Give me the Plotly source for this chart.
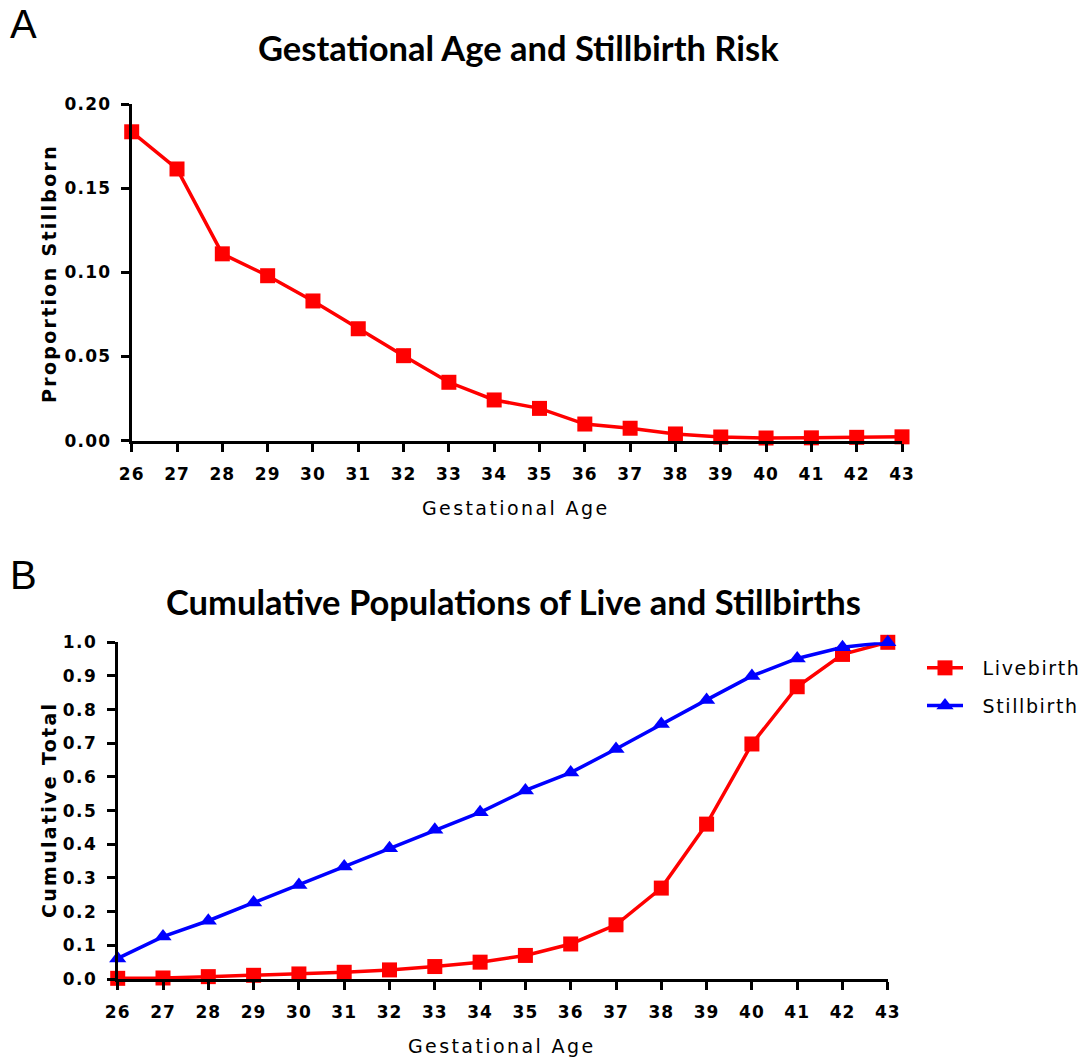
import plotly.graph_objects as go

weeks = list(range(26, 44))
prop_stillborn = [0.1835, 0.1614, 0.111, 0.098, 0.083, 0.0665, 0.0505, 0.0347, 0.0242,
                  0.0192, 0.0099, 0.0074, 0.0040, 0.0022, 0.0016, 0.0017, 0.0020, 0.0023]
livebirth_cum = [0.002, 0.003, 0.007, 0.011, 0.015, 0.020, 0.027, 0.037, 0.050,
                 0.070, 0.104, 0.161, 0.270, 0.460, 0.698, 0.868, 0.964, 1.000]
stillbirth_cum = [0.061, 0.126, 0.173, 0.227, 0.279, 0.334, 0.388, 0.443, 0.495,
                  0.560, 0.613, 0.683, 0.757, 0.829, 0.900, 0.952, 0.985, 1.000]
y1_ticks = [0.00, 0.05, 0.10, 0.15, 0.20]
y2_ticks = [0.0, 0.1, 0.2, 0.3, 0.4, 0.5, 0.6, 0.7, 0.8, 0.9, 1.0]

RED = "#ff0000"
BLUE = "#0000ff"
TICKFONT = dict(family="DejaVu Sans", size=17, color="black", weight="bold")


def sp(s, ls=2):
    return f'<span style="letter-spacing:{ls}px">{s}</span>'


fig = go.Figure()
fig.add_trace(go.Scatter(x=weeks, y=prop_stillborn, mode="lines+markers",
                         line=dict(color=RED, width=3.5),
                         marker=dict(symbol="square", size=15, color=RED),
                         cliponaxis=False, showlegend=False,
                         xaxis="x", yaxis="y"))
fig.add_trace(go.Scatter(x=weeks, y=livebirth_cum, mode="lines+markers",
                         name=sp("\u2002\u200aLivebirth", 1.6),
                         line=dict(color=RED, width=3.5),
                         marker=dict(symbol="square", size=15, color=RED),
                         cliponaxis=False, legendgroup="a",
                         xaxis="x2", yaxis="y2"))
fig.add_trace(go.Scatter(x=weeks, y=stillbirth_cum, mode="lines+markers",
                         name=sp("\u2002\u200aStillbirth", 1.6),
                         line=dict(color=BLUE, width=3.5),
                         marker=dict(symbol="triangle-up", size=15, color=BLUE),
                         cliponaxis=False, legendgroup="b",
                         xaxis="x2", yaxis="y2"))

W, H = 1089, 1062
axcommon = dict(showline=True, linecolor="black", linewidth=3, ticks="outside",
                ticklen=8, tickwidth=3, tickcolor="black", showgrid=False,
                zeroline=False, tickfont=TICKFONT, fixedrange=True, automargin=False)

fig.update_layout(
    width=W, height=H, margin=dict(l=0, r=0, t=0, b=0, pad=0, autoexpand=False),
    paper_bgcolor="white", plot_bgcolor="white",
    xaxis=dict(domain=[131.7 / W, 902 / W], anchor="y", range=[26, 43],
               tickvals=weeks, ticktext=[sp(str(w), 1) for w in weeks],
               ticklabelstandoff=8, **axcommon),
    yaxis=dict(domain=[1 - 440.7 / H, 1 - 104 / H], anchor="x", range=[0, 0.2],
               tickvals=y1_ticks, ticktext=[sp(f"{v:.2f}", 1.2) for v in y1_ticks],
               ticklabelstandoff=6, **axcommon),
    xaxis2=dict(domain=[117.7 / W, 887.8 / W], anchor="y2", range=[26, 43],
                tickvals=weeks, ticktext=[sp(str(w), 1) for w in weeks],
                ticklabelstandoff=8, **axcommon),
    yaxis2=dict(domain=[1 - 979 / H, 1 - 642.3 / H], anchor="x2", range=[0, 1],
                tickvals=y2_ticks, ticktext=[sp(f"{v:.1f}", 1.5) for v in y2_ticks],
                ticklabelstandoff=6, **axcommon),
    legend=dict(x=922 / W, y=1 - 649 / H, xanchor="left", yanchor="top",
                font=dict(family="DejaVu Sans", size=19, color="black"),
                itemwidth=36, tracegroupgap=10, bgcolor="rgba(0,0,0,0)"),
)

ann = []
ann.append(dict(text="A", x=8 / W, y=1 - 24 / H, xanchor="left", yanchor="middle",
                font=dict(family="Liberation Sans", size=40, color="black")))
ann.append(dict(text="B", x=8 / W, y=1 - 575 / H, xanchor="left", yanchor="middle",
                font=dict(family="Liberation Sans", size=40, color="black")))
ann.append(dict(text="Gestational Age and Stillbirth Risk", x=518 / W, y=1 - 47 / H,
                xanchor="center", yanchor="middle",
                font=dict(family="Lato", size=34.5, color="black", weight="bold")))
ann.append(dict(text="Cumulative Populations of Live and Stillbirths", x=513 / W, y=1 - 601 / H,
                xanchor="center", yanchor="middle",
                font=dict(family="Lato", size=34.5, color="black", weight="bold")))
ann.append(dict(text=sp("Gestational Age", 2.4), x=516 / W, y=1 - 508 / H,
                xanchor="center", yanchor="middle",
                font=dict(family="DejaVu Sans", size=19, color="black")))
ann.append(dict(text=sp("Gestational Age", 2.4), x=502 / W, y=1 - 1046 / H,
                xanchor="center", yanchor="middle",
                font=dict(family="DejaVu Sans", size=19, color="black")))
ann.append(dict(text=sp("Proportion Stillborn", 2.3), x=49 / W, y=1 - 274 / H, textangle=-90,
                xanchor="center", yanchor="middle",
                font=dict(family="DejaVu Sans", size=19, color="black", weight="bold")))
ann.append(dict(text=sp("Cumulative Total", 2.3), x=49 / W, y=1 - 810 / H, textangle=-90,
                xanchor="center", yanchor="middle",
                font=dict(family="DejaVu Sans", size=19, color="black", weight="bold")))
for a in ann:
    a.update(xref="paper", yref="paper", showarrow=False)
fig.update_layout(annotations=ann)

fig.write_html("out.html", config={"displayModeBar": False})
